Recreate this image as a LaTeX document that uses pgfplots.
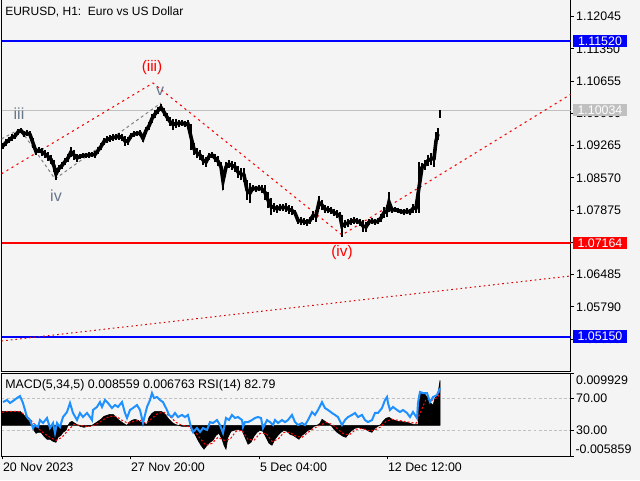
\documentclass[border=0pt]{standalone}
\usepackage{pgfplots}
\usepackage{pgfplotstable}
\pgfplotsset{compat=1.18}
\usepackage{fontspec}
\setmainfont{Liberation Sans}
\definecolor{bgc}{HTML}{F4F4F4}
\definecolor{rsiblue}{HTML}{1E90FF}
\definecolor{wavegray}{HTML}{66778A}
\definecolor{silverc}{HTML}{C0C0C0}
\definecolor{dashgray}{HTML}{808080}
\newcommand{\tf}{\fontsize{9.3}{11}\selectfont}

\pgfplotstableread{
x hi lo
3 1.09323 1.09194
6 1.09410 1.09259
9 1.09453 1.09323
12 1.09517 1.09366
15 1.09539 1.09410
18 1.09625 1.09496
21 1.09646 1.09539
24 1.09582 1.09453
27 1.09603 1.09474
30 1.09582 1.09431
33 1.09431 1.09216
36 1.09216 1.09065
39 1.09237 1.09108
42 1.09216 1.09043
45 1.09173 1.09000
48 1.09130 1.08936
51 1.09065 1.08871
54 1.08957 1.08699
56 1.08785 1.08526
59 1.08849 1.08699
62 1.08914 1.08763
65 1.09000 1.08849
68 1.09086 1.08914
71 1.09237 1.09022
74 1.09173 1.08957
77 1.09086 1.08914
80 1.09086 1.08979
83 1.09108 1.09000
86 1.09108 1.09000
89 1.09130 1.09000
92 1.09130 1.09022
95 1.09151 1.09000
98 1.09237 1.09086
101 1.09323 1.09173
104 1.09431 1.09280
107 1.09474 1.09323
110 1.09496 1.09345
113 1.09517 1.09366
116 1.09517 1.09388
119 1.09539 1.09388
122 1.09517 1.09366
125 1.09474 1.09259
128 1.09453 1.09280
131 1.09539 1.09410
134 1.09582 1.09453
137 1.09582 1.09474
140 1.09603 1.09474
143 1.09496 1.09345
146 1.09668 1.09517
149 1.09776 1.09603
152 1.09948 1.09754
155 1.10034 1.09862
158 1.10099 1.09948
161 1.10164 1.10013
164 1.10077 1.09905
167 1.09970 1.09797
170 1.09883 1.09690
173 1.09840 1.09603
176 1.09840 1.09646
179 1.09819 1.09668
182 1.09819 1.09690
185 1.09797 1.09668
188 1.09819 1.09646
191 1.09733 1.09173
194 1.09323 1.09065
197 1.09216 1.09000
200 1.09173 1.08957
203 1.09065 1.08849
206 1.09022 1.08806
209 1.09108 1.08957
212 1.09130 1.09000
215 1.09086 1.08914
218 1.09043 1.08828
221 1.08914 1.08699
223 1.08699 1.08311
226 1.08914 1.08699
229 1.08957 1.08785
232 1.08936 1.08742
235 1.08914 1.08699
238 1.08828 1.08569
241 1.08785 1.08526
244 1.08785 1.08483
247 1.08526 1.08095
250 1.08462 1.08031
253 1.08419 1.08289
256 1.08397 1.08268
259 1.08419 1.08289
262 1.08419 1.08246
265 1.08419 1.08095
268 1.08268 1.07923
271 1.08138 1.07772
274 1.08031 1.07837
277 1.07988 1.07815
280 1.08009 1.07858
283 1.08009 1.07858
286 1.08031 1.07837
289 1.07988 1.07794
292 1.07966 1.07772
295 1.07880 1.07750
298 1.07729 1.07578
301 1.07729 1.07556
304 1.07707 1.07556
307 1.07686 1.07535
310 1.07729 1.07578
313 1.07858 1.07664
316 1.07880 1.07621
319 1.08181 1.07901
322 1.08095 1.07880
325 1.07988 1.07815
328 1.07966 1.07815
331 1.07944 1.07794
334 1.07901 1.07750
337 1.07880 1.07707
340 1.07837 1.07664
342 1.07772 1.07298
345 1.07664 1.07492
348 1.07686 1.07513
351 1.07707 1.07556
354 1.07729 1.07578
357 1.07707 1.07578
360 1.07686 1.07535
363 1.07664 1.07406
366 1.07621 1.07406
369 1.07686 1.07556
372 1.07707 1.07578
375 1.07686 1.07556
378 1.07707 1.07578
381 1.07794 1.07621
384 1.07944 1.07707
387 1.07988 1.07729
389 1.08268 1.07837
392 1.07944 1.07815
395 1.07944 1.07837
398 1.07923 1.07815
401 1.07901 1.07794
404 1.07901 1.07772
407 1.07923 1.07794
410 1.07901 1.07772
413 1.08009 1.07815
416 1.08031 1.07815
419 1.08914 1.07815
422 1.08893 1.08699
425 1.08957 1.08742
428 1.09065 1.08828
431 1.09108 1.08849
434 1.09173 1.08806
436 1.09560 1.09173
438 1.09646 1.09388
}\pricetable

\pgfplotstableread{
x hi lo
440 1.10034 1.09862
}\lastbar

\pgfplotstableread{
x v
2 0.00267
5 0.00267
8 0.00267
11 0.00267
14 0.00267
17 0.00267
20 0.00267
22 0.00229
25 0.00172
27 0.00115
30 0.00057
32 0.00019
34 -0.00096
36 -0.00153
38 -0.00134
41 -0.00134
44 -0.00210
47 -0.00267
50 -0.00267
53 -0.00306
56 -0.00325
58 -0.00229
61 -0.00191
63 -0.00134
66 -0.00096
68 0.00000
70 0.00057
72 0.00076
75 0.00038
78 0.00000
80 -0.00019
84 -0.00038
88 -0.00019
92 0.00000
95 0.00038
98 0.00076
101 0.00115
104 0.00172
107 0.00191
110 0.00210
113 0.00210
116 0.00153
119 0.00096
122 0.00057
125 0.00019
127 0.00000
129 0.00057
132 0.00096
135 0.00115
138 0.00096
141 0.00057
144 0.00038
147 0.00019
149 0.00153
152 0.00229
155 0.00267
158 0.00267
161 0.00267
163 0.00248
166 0.00191
169 0.00115
172 0.00057
175 0.00019
178 0.00000
182 -0.00019
186 -0.00019
190 -0.00019
192 -0.00115
195 -0.00172
198 -0.00287
201 -0.00382
204 -0.00458
207 -0.00382
210 -0.00325
213 -0.00287
216 -0.00191
219 -0.00153
222 -0.00267
224 -0.00382
226 -0.00458
228 -0.00229
231 -0.00115
234 -0.00096
238 -0.00076
242 -0.00096
245 -0.00229
248 -0.00363
251 -0.00325
254 -0.00210
257 -0.00134
260 -0.00096
263 -0.00115
266 -0.00229
269 -0.00344
272 -0.00382
275 -0.00267
278 -0.00191
281 -0.00134
284 -0.00096
287 -0.00115
290 -0.00172
293 -0.00191
296 -0.00229
299 -0.00267
302 -0.00191
305 -0.00153
308 -0.00096
311 -0.00076
314 -0.00019
317 0.00000
320 0.00038
322 0.00115
325 0.00076
328 0.00038
331 0.00000
334 -0.00076
337 -0.00134
340 -0.00172
343 -0.00210
346 -0.00229
349 -0.00153
352 -0.00096
355 -0.00057
358 -0.00038
362 -0.00057
366 -0.00076
369 -0.00115
372 -0.00134
375 -0.00057
378 -0.00019
381 0.00019
383 0.00076
386 0.00134
389 0.00153
392 0.00115
395 0.00096
398 0.00076
401 0.00076
404 0.00057
407 0.00057
410 0.00038
413 0.00019
416 0.00019
418 0.00019
419 0.00573
422 0.00630
425 0.00592
428 0.00516
431 0.00420
433 0.00382
435 0.00516
438 0.00611
440 0.008559
}\macdtable

\pgfplotstableread{
x v
2 0.00248
8 0.00267
14 0.00267
20 0.00258
26 0.00191
32 0.00076
38 -0.00057
44 -0.00153
50 -0.00229
56 -0.00287
62 -0.00229
68 -0.00096
74 0.00019
80 0.00000
86 -0.00019
92 -0.00019
98 0.00038
104 0.00115
110 0.00172
116 0.00172
122 0.00096
128 0.00038
134 0.00076
140 0.00096
146 0.00038
152 0.00134
158 0.00229
164 0.00248
170 0.00172
176 0.00057
182 0.00000
188 -0.00019
194 -0.00096
200 -0.00248
206 -0.00382
212 -0.00344
218 -0.00229
224 -0.00287
230 -0.00267
236 -0.00115
242 -0.00096
248 -0.00267
254 -0.00287
260 -0.00153
266 -0.00153
272 -0.00306
278 -0.00267
284 -0.00134
290 -0.00134
296 -0.00210
302 -0.00229
308 -0.00134
314 -0.00057
320 0.00000
326 0.00057
332 0.00019
338 -0.00076
344 -0.00172
350 -0.00172
356 -0.00076
362 -0.00057
368 -0.00096
374 -0.00096
380 -0.00038
386 0.00076
392 0.00115
398 0.00096
404 0.00076
410 0.00057
416 0.00038
420 0.00229
426 0.00497
432 0.00478
438 0.00535
440 0.006763
}\signaltable

\pgfplotstableread{
x v
3 65.4
7 67.9
10 64.2
13 66.7
17 70.4
20 72.8
23 64.2
25 55.6
27 46.9
30 43.2
33 33.3
35 37.0
38 34.6
40 43.2
43 39.5
47 45.7
50 33.3
53 39.5
55 27.2
57 39.5
60 34.6
63 46.9
67 53.1
70 64.2
73 51.9
77 43.2
80 51.9
83 46.9
87 51.9
90 46.9
92 43.2
93 55.6
97 59.4
100 65.4
102 59.4
105 67.9
108 64.2
112 58.0
115 61.7
118 59.4
122 65.4
125 51.9
127 45.7
130 55.6
133 58.0
137 61.7
140 55.6
143 39.5
147 59.4
150 67.9
152 76.5
154 70.4
157 71.6
160 67.9
163 65.4
167 55.6
169 49.5
172 46.9
175 51.9
178 46.9
182 49.5
185 46.9
188 49.5
191 34.6
193 28.4
197 33.3
200 28.4
203 33.3
207 30.9
210 40.7
213 39.5
217 43.2
220 37.0
223 27.2
226 45.7
229 43.2
232 49.5
235 45.7
238 46.9
242 43.2
243 34.6
245 40.7
248 40.7
252 43.2
255 45.7
258 46.9
261 45.7
263 33.3
267 43.2
270 40.7
273 37.0
275 43.2
278 39.5
282 43.2
285 40.7
288 43.2
292 49.5
295 40.7
298 37.0
302 39.5
305 37.0
308 43.2
312 53.1
315 49.5
318 55.6
322 65.4
325 58.0
328 55.6
332 51.9
335 49.5
338 46.9
342 37.0
345 43.2
348 46.9
352 49.5
355 51.9
358 46.9
362 49.5
365 43.2
368 40.7
372 43.2
375 51.9
378 51.9
382 58.0
385 67.9
387 71.6
388 64.2
390 55.6
393 59.4
397 55.6
400 53.1
403 55.6
407 51.9
410 46.9
413 53.1
417 45.7
418 64.2
420 77.8
423 76.5
427 76.5
430 65.4
433 71.6
437 74.1
440 82.79
}\rsitable

\begin{document}
\begin{tikzpicture}
\useasboundingbox (0pt,0pt) rectangle (480pt,360pt);
\clip (0pt,0pt) rectangle (480pt,360pt);
\fill[bgc] (0pt,0pt) rectangle (480pt,360pt);

% ---------------- main price chart ----------------
\begin{axis}[
  at={(1.125pt,81.75pt)}, anchor=south west,
  width=426.75pt, height=278.625pt, scale only axis,
  xmin=1.5, xmax=570.5, ymin=1.04409, ymax=1.12416,
  axis line style={black, line width=0.75pt},
  xtick=\empty,
  ytick={1.05095,1.05790,1.06485,1.07180,1.07875,1.08570,1.09265,1.09960,1.10655,1.11350,1.12045},
  yticklabels={1.05095,1.05790,1.06485,1.07180,1.07875,1.08570,1.09265,1.09960,1.10655,1.11350,1.12045},
  ytick pos=right, yticklabel pos=right,
  tick align=outside, major tick length=2.6pt,
  tick style={black, line width=0.75pt},
  yticklabel style={font=\tf, anchor=west, inner sep=0pt, xshift=1.5pt},
  clip mode=individual,
]
% horizontal levels
\addplot[blue, line width=1.5pt] coordinates {(1.5,1.11520) (570.5,1.11520)};
\addplot[silverc, line width=0.75pt] coordinates {(1.5,1.10034) (570.5,1.10034)};
\addplot[red, line width=1.5pt] coordinates {(1.5,1.07164) (570.5,1.07164)};
\addplot[blue, line width=1.5pt] coordinates {(1.5,1.05150) (570.5,1.05150)};
% wave lines
\addplot[red, line width=0.8pt, dash pattern=on 1.6pt off 2.8pt] coordinates {(1.5,1.08660) (153,1.10616) (342,1.07341) (570.5,1.10369)};
\addplot[red!85!black, line width=0.75pt, dash pattern=on 1.2pt off 2.3pt] coordinates {(1.5,1.05056) (570.5,1.06457)};
\addplot[dashgray, line width=0.75pt, dash pattern=on 2.2pt off 2.2pt] coordinates {(1.5,1.09410) (20,1.09625) (55,1.08548) (161,1.10185)};
% price: mid line plus high-low bars
\addplot[black, line width=2.7pt, line join=miter, mark=none]
  table[x=x, y expr={(\thisrow{hi}+\thisrow{lo})/2}] {\pricetable};
\addplot[draw=none, mark=none,
  error bars/.cd, y dir=both, y explicit, error mark=none,
  error bar style={draw=black, solid, line width=1.3pt}]
  table[x=x, y expr={(\thisrow{hi}+\thisrow{lo})/2}, y error expr={(\thisrow{hi}-\thisrow{lo})/2}] {\pricetable};
\addplot[draw=none, mark=none,
  error bars/.cd, y dir=both, y explicit, error mark=none,
  error bar style={draw=black, solid, line width=1.5pt}]
  table[x=x, y expr={(\thisrow{hi}+\thisrow{lo})/2}, y error expr={(\thisrow{hi}-\thisrow{lo})/2}] {\lastbar};
% wave labels
\node[text=red, font=\fontsize{11.5}{12}\selectfont] at (axis cs:152,1.10940) {(iii)};
\node[text=red, font=\fontsize{11.5}{12}\selectfont] at (axis cs:342,1.06953) {(iv)};
\node[text=wavegray, font=\fontsize{12}{13}\selectfont] at (axis cs:160,1.10444) {v};
\node[text=wavegray, font=\fontsize{12}{13}\selectfont] at (axis cs:19,1.09948) {iii};
\node[text=wavegray, font=\fontsize{12}{13}\selectfont] at (axis cs:56,1.08181) {iv};
\coordinate (B1) at (axis cs:570.5,1.11520);
\coordinate (B2) at (axis cs:570.5,1.10034);
\coordinate (B3) at (axis cs:570.5,1.07164);
\coordinate (B4) at (axis cs:570.5,1.05150);
\end{axis}

% ---------------- indicator panel: RSI guide lines ----------------
\begin{axis}[
  at={(1.125pt,18pt)}, anchor=south west,
  width=426.75pt, height=62.025pt, scale only axis,
  xmin=1.5, xmax=570.5, ymin=-1.2, ymax=100.9,
  axis line style={draw=none},
  xtick=\empty,
  ytick={30,70}, yticklabels={30.00,70.00},
  ytick pos=right, yticklabel pos=right,
  tick align=outside, major tick length=2.6pt,
  tick style={black, line width=0.75pt},
  yticklabel style={font=\tf, anchor=west, inner sep=0pt, xshift=1.5pt},
]
\addplot[silverc, line width=0.75pt, dash pattern=on 2.2pt off 1.6pt] coordinates {(1.5,70) (570.5,70)};
\addplot[silverc, line width=0.75pt, dash pattern=on 2.2pt off 1.6pt] coordinates {(1.5,30) (570.5,30)};
\end{axis}

% ---------------- indicator panel: MACD ----------------
\begin{axis}[
  at={(1.125pt,18pt)}, anchor=south west,
  width=426.75pt, height=62.025pt, scale only axis,
  xmin=1.5, xmax=570.5, ymin=-0.005859, ymax=0.009929,
  scaled y ticks=false,
  axis line style={black, line width=0.75pt},
  xtick={2,130,259,387},
  xticklabels={20 Nov 2023, 27 Nov 20:00, 5 Dec 04:00, 12 Dec 12:00},
  xtick pos=bottom,
  ytick={-0.005859,0.009929}, yticklabels={,},
  ytick pos=right,
  tick align=outside, major tick length=2.6pt,
  tick style={black, line width=0.75pt},
  xticklabel style={font=\tf, anchor=north west, inner sep=0pt, xshift=0.6pt, yshift=-2.3pt},
  clip mode=individual,
]
\addplot[fill=black, draw=black, line width=0.4pt] table[x=x, y=v] {\macdtable} \closedcycle;
\addplot[red, line width=0.75pt, dash pattern=on 1.5pt off 1.5pt] table[x=x, y=v] {\signaltable};
\node[anchor=west, font=\tf, inner sep=0pt, xshift=4.1pt, yshift=-5.5pt] at (rel axis cs:1,1) {0.009929};
\node[anchor=west, font=\tf, inner sep=0pt, xshift=3.6pt, yshift=5.3pt] at (rel axis cs:1,0) {-0.005859};
\end{axis}

% ---------------- indicator panel: RSI line ----------------
\begin{axis}[
  at={(1.125pt,18pt)}, anchor=south west,
  width=426.75pt, height=62.025pt, scale only axis,
  xmin=1.5, xmax=570.5, ymin=-1.2, ymax=100.9,
  hide axis,
]
\addplot[rsiblue, line width=1.5pt] table[x=x, y=v] {\rsitable};
\end{axis}

% price label boxes
\tikzset{pbox/.style={anchor=west, inner sep=0pt, xshift=1.65pt, minimum height=9.4pt, minimum width=40.5pt, text=white, font=\tf}}
\node[pbox, fill=blue] at (B1) {1.11520};
\node[pbox, fill=silverc] at (B2) {1.10034};
\node[pbox, fill=red] at (B3) {1.07164};
\node[pbox, fill=blue] at (B4) {1.05150};

% texts
\node[anchor=west, inner sep=0pt, font=\fontsize{9}{11}\selectfont] at (3.75pt,351pt) {EURUSD, H1:\ \ Euro vs US Dollar};
\node[anchor=west, inner sep=0pt, font=\tf] at (3.75pt,71.25pt) {MACD(5,34,5) 0.008559 0.006763 RSI(14) 82.79};
\end{tikzpicture}
\end{document}
